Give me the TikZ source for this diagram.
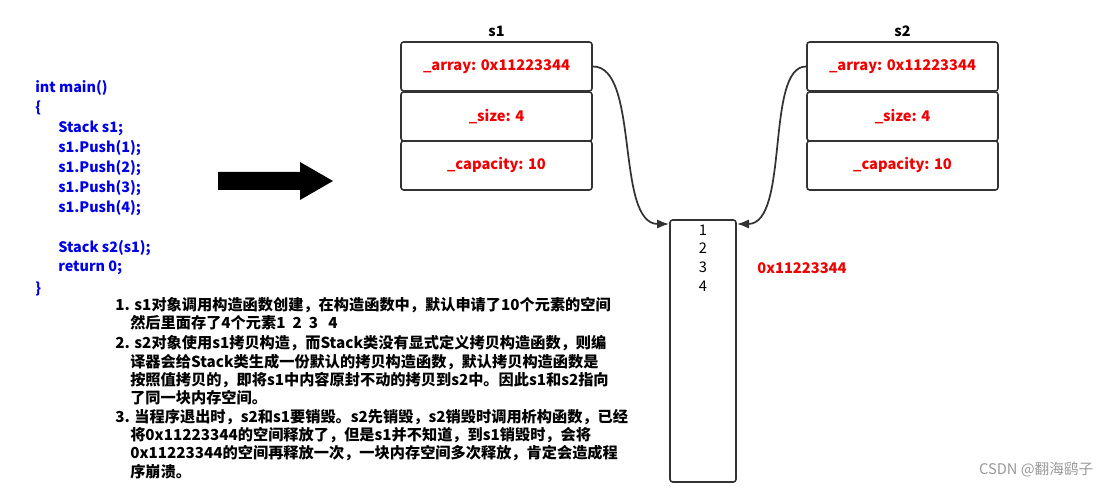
\documentclass[tikz,border=0pt]{standalone}
\usepackage{fontspec}
\setmainfont{Noto Sans CJK SC}
\usepackage{tikz}
\usetikzlibrary{arrows.meta, positioning}
\definecolor{codeblue}{RGB}{0,0,230}
\definecolor{fieldred}{RGB}{240,0,0}
\tikzstyle{field} = [rectangle, draw=black!80, line width=1.2pt, rounded corners=2pt,
    minimum width=143.25pt, minimum height=36.75pt, text=fieldred, font=\bfseries\fontsize{11}{13}\selectfont]
\tikzstyle{code} = [anchor=west, inner sep=0pt, text=codeblue, font=\bfseries\fontsize{10.8}{12}\selectfont]
\tikzstyle{note} = [anchor=west, inner sep=0pt, font=\bfseries\fontsize{11.4}{13}\selectfont]
\tikzstyle{line} = [draw=black!80, line width=1.3pt, -{Latex[length=9pt,width=7pt]}]

\begin{document}
\begin{tikzpicture}[x=0.75pt, y=-0.75pt]
            \useasboundingbox (0,0) rectangle (1101,491);
            % code
            \node [code] (l1) at (35,88) {int main()};
            \node [code] (l2) at (35,108) {\{};
            \node [code] (l3) at (58,128) {Stack s1;};
            \node [code] (l4) at (58,148) {s1.Push(1);};
            \node [code] (l5) at (58,168) {s1.Push(2);};
            \node [code] (l6) at (58,188) {s1.Push(3);};
            \node [code] (l7) at (58,208) {s1.Push(4);};
            \node [code] (l8) at (58,248) {Stack s2(s1);};
            \node [code] (l9) at (58,268) {return 0;};
            \node [code] (l10) at (35,289) {\}};

            % big arrow
            \fill [black] (218,172) -- (300,172) -- (300,162) -- (333,181)
                -- (300,200) -- (300,190) -- (218,190) -- cycle;

            % stack objects
            \node [field] (a1) at (496.5,66.5) {\_array: 0x11223344};
            \node [field] (sz1) at (496.5,116.5) {\_size: 4};
            \node [field] (c1) at (496.5,165.5) {\_capacity: 10};
            \node [above=0pt of a1, font=\bfseries\fontsize{10.8}{12}\selectfont] (s1) {s1};

            \node [field] (a2) at (902.5,66.5) {\_array: 0x11223344};
            \node [field] (sz2) at (902.5,116.5) {\_size: 4};
            \node [field] (c2) at (902.5,165.5) {\_capacity: 10};
            \node [above=0pt of a2, font=\bfseries\fontsize{10.8}{12}\selectfont] (s2) {s2};

            % heap block
            \node [rectangle, draw=black!80, line width=1.2pt, rounded corners=2pt,
                minimum width=49.5pt, minimum height=196.5pt] (heap) at (703,351) {};
            \node [font=\fontsize{11}{12}\selectfont, inner sep=0pt] (n1) at (703,230) {1};
            \node [font=\fontsize{11}{12}\selectfont, inner sep=0pt] (n2) at (703,248) {2};
            \node [font=\fontsize{11}{12}\selectfont, inner sep=0pt] (n3) at (703,267) {3};
            \node [font=\fontsize{11}{12}\selectfont, inner sep=0pt] (n4) at (703,286) {4};
            \node [text=fieldred, font=\bfseries\fontsize{11}{13}\selectfont] (addr) at (802,268) {0x11223344};

            % pointers
            \coordinate (h1) at (669,224);
            \coordinate (h2) at (737,224);
            \path [line] (a1.east) .. controls (640,66) and (615,224) .. (h1);
            \path [line] (a2.west) .. controls (765,66) and (790,224) .. (h2);

            % notes
            \node [note] (t1) at (115,305) {1. s1对象调用构造函数创建，在构造函数中，默认申请了10个元素的空间};
            \node [note] (t2) at (130,323) {然后里面存了4个元素1\ \ 2\ \ 3\ \ \ 4};
            \node [note] (t3) at (115,343) {2. s2对象使用s1拷贝构造，而Stack类没有显式定义拷贝构造函数，则编};
            \node [note] (t4) at (130,362) {译器会给Stack类生成一份默认的拷贝构造函数，默认拷贝构造函数是};
            \node [note] (t5) at (130,380) {按照值拷贝的，即将s1中内容原封不动的拷贝到s2中。因此s1和s2指向};
            \node [note] (t6) at (130,398) {了同一块内存空间。};
            \node [note] (t7) at (115,417) {3. 当程序退出时，s2和s1要销毁。s2先销毁，s2销毁时调用析构函数，已经};
            \node [note] (t8) at (130,435) {将0x11223344的空间释放了，但是s1并不知道，到s1销毁时，会将};
            \node [note] (t9) at (130,453) {0x11223344的空间再释放一次，一块内存空间多次释放，肯定会造成程};
            \node [note] (t10) at (130,472) {序崩溃。};

            \node [anchor=east, text=black!40, font=\fontsize{11}{12}\selectfont] (mark) at (1098,470) {CSDN @翻海鹞子};
        \end{tikzpicture}
\end{document}
